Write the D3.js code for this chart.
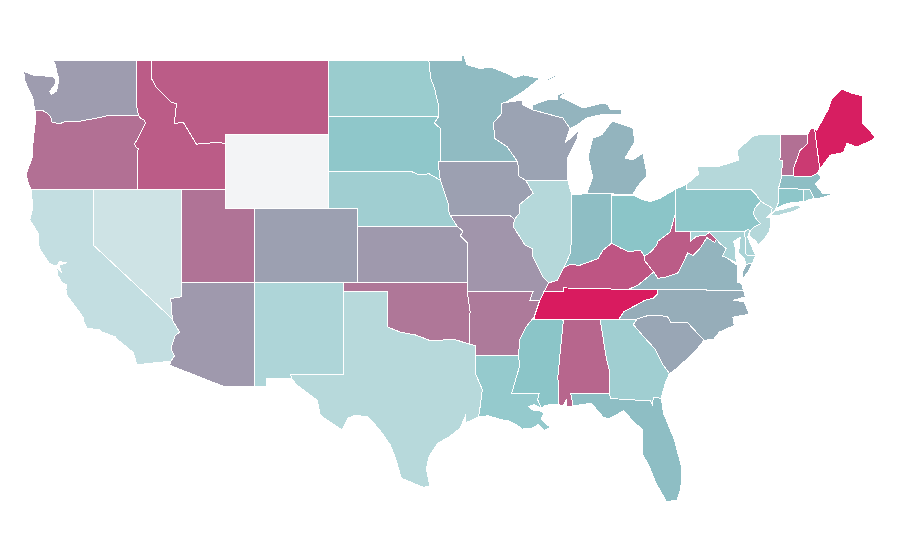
<!DOCTYPE html>
<html>
<head>
<meta charset="utf-8">
<script src="https://cdnjs.cloudflare.com/ajax/libs/d3/7.8.5/d3.min.js"></script>
<style>
body { margin: 0; background: #fff; }
</style>
</head>
<body>
<div id="map"></div>
<script>
// values, 0 = palest, 100 = deepest red
var stateNames = ["AL","AZ","AR","CA","CO","CT","DE","FL","GA","ID","IL","IN","IA","KS","KY","LA","ME","MD","MA","MI","MN","MS","MO","MT","NE","NV","NH","NJ","NM","NY","NC","ND","OH","OK","OR","PA","RI","SC","SD","TN","TX","UT","VT","VA","WA","WV","WI","WY"];
var stateValues = [78,63,72,23,61,49,35,52,40,81,30,52,61,63,83,45,99,35,52,55,53,50,64,81,40,18,91,30,33,30,57,43,50,73,75,48,42,59,48,100,29,74,75,55,62,81,60,0];

// outlines as lon/lat, one list of rings per state
var stateOutlines = {
  WA: [[[-117.03,49],[-122.76,49],[-122.55,48.7],[-122.5,48.4],[-122.35,48.05],[-122.4,47.6],[-122.5,47.3],[-122.85,47.15],[-122.95,47.3],[-122.6,47.65],[-122.55,47.95],[-122.72,48.1],[-123.2,48.13],[-124.0,48.17],[-124.72,48.38],[-124.65,47.9],[-124.35,47.35],[-124.1,46.95],[-124.05,46.65],[-123.95,46.25],[-123.45,46.27],[-123.15,46.15],[-122.9,45.95],[-122.8,45.65],[-122.3,45.55],[-121.8,45.7],[-121.2,45.65],[-120.6,45.74],[-119.9,45.84],[-119.3,45.93],[-118.98,46.0],[-116.92,46.0],[-117.04,46.42]]],
  OR: [[[-123.95,46.25],[-123.45,46.27],[-123.15,46.15],[-122.9,45.95],[-122.8,45.65],[-122.3,45.55],[-121.8,45.7],[-121.2,45.65],[-120.6,45.74],[-119.9,45.84],[-119.3,45.93],[-118.98,46.0],[-116.92,46.0],[-116.78,45.85],[-116.55,45.75],[-116.46,45.6],[-116.68,45.25],[-116.85,44.95],[-117.2,44.45],[-117.05,44.25],[-116.95,44.2],[-117.03,43.85],[-117.03,42],[-124.21,42],[-124.4,42.3],[-124.55,42.84],[-124.15,43.7],[-124.07,44.7],[-123.95,45.5]]],
  CA: [[[-124.21,42],[-120,42],[-120,39],[-114.63,35.0],[-114.57,34.85],[-114.14,34.3],[-114.43,34.1],[-114.53,33.9],[-114.72,33.4],[-114.5,33.0],[-114.72,32.72],[-117.03,32.53],[-117.3,33.2],[-117.9,33.6],[-118.32,33.86],[-118.5,34.03],[-119.4,34.3],[-119.6,34.42],[-120.42,34.5],[-120.65,34.9],[-120.69,35.1],[-121.8,36.3],[-121.85,36.6],[-121.78,36.84],[-122.1,36.96],[-122.45,37.4],[-122.46,37.75],[-122.15,37.5],[-122.3,37.9],[-121.8,38.05],[-122.3,38.1],[-122.5,37.85],[-122.97,38.0],[-123.67,38.84],[-123.75,39.65],[-124.3,40.35],[-124.1,41.0]]],
  NV: [[[-120,42],[-114.04,42],[-114.04,36.2],[-114.74,36.1],[-114.63,35.0],[-120,39]]],
  ID: [[[-117.03,49],[-116.05,49],[-116.05,48.0],[-115.7,47.5],[-114.7,46.7],[-114.35,46.65],[-114.5,45.55],[-113.9,45.65],[-113.45,45.05],[-113,44.45],[-111.5,44.55],[-111.05,44.48],[-111.05,42],[-117.03,42],[-117.03,43.85],[-116.95,44.2],[-117.05,44.25],[-117.2,44.45],[-116.85,44.95],[-116.68,45.25],[-116.46,45.6],[-116.55,45.75],[-116.78,45.85],[-116.92,46.0],[-117.04,46.42]]],
  MT: [[[-116.05,49],[-104.05,49],[-104.05,45],[-111.05,45],[-111.05,44.48],[-111.5,44.55],[-113,44.45],[-113.45,45.05],[-113.9,45.65],[-114.5,45.55],[-114.35,46.65],[-114.7,46.7],[-115.7,47.5],[-116.05,48.0]]],
  WY: [[[-111.05,45],[-104.05,45],[-104.05,41],[-111.05,41]]],
  UT: [[[-114.04,42],[-111.05,42],[-111.05,41],[-109.05,41],[-109.05,37],[-114.04,37]]],
  CO: [[[-109.05,41],[-102.05,41],[-102.05,37],[-109.05,37]]],
  AZ: [[[-114.04,37],[-109.05,37],[-109.05,31.33],[-111.07,31.33],[-114.81,32.5],[-114.72,32.72],[-114.5,33.0],[-114.72,33.4],[-114.53,33.9],[-114.43,34.1],[-114.14,34.3],[-114.57,34.85],[-114.63,35.0],[-114.74,36.1],[-114.04,36.2]]],
  NM: [[[-109.05,37],[-103,37],[-103.04,32],[-106.62,32],[-106.53,31.78],[-108.21,31.78],[-108.21,31.33],[-109.05,31.33]]],
  TX: [[[-103,36.5],[-100,36.5],[-100,34.56],[-99.2,34.3],[-98.1,34.13],[-97.2,33.85],[-96.6,33.85],[-95.5,33.9],[-94.48,33.64],[-94.04,33.55],[-94.04,33.02],[-94.04,32],[-93.6,31.2],[-93.7,30.5],[-93.85,29.7],[-94.7,29.4],[-94.75,29.75],[-95.1,29.1],[-95.9,28.6],[-96.6,28.3],[-97.2,27.6],[-97.4,26.9],[-97.15,25.96],[-97.6,25.9],[-99.1,26.4],[-99.5,27.5],[-99.85,28.2],[-100.55,29],[-101.35,29.7],[-102.2,29.8],[-102.7,29.65],[-103.1,29],[-104.6,29.8],[-104.8,30.6],[-106.2,31.45],[-106.53,31.78],[-106.62,32],[-103.04,32]]],
  OK: [[[-103,37],[-94.62,37],[-94.62,36.5],[-94.43,35.4],[-94.48,33.64],[-95.5,33.9],[-96.6,33.85],[-97.2,33.85],[-98.1,34.13],[-99.2,34.3],[-100,34.56],[-100,36.5],[-103,36.5]]],
  KS: [[[-102.05,40],[-95.3,40],[-94.9,39.75],[-95.1,39.5],[-94.6,39.1],[-94.62,37],[-102.05,37]]],
  NE: [[[-104.05,43],[-98.5,43],[-97.9,42.8],[-97.2,42.85],[-96.45,42.5],[-96.1,41.7],[-95.9,41.2],[-95.85,40.7],[-95.75,40.58],[-95.3,40],[-102.05,40],[-102.05,41],[-104.05,41]]],
  SD: [[[-104.05,45.94],[-96.56,45.94],[-96.85,45.6],[-96.45,45.3],[-96.45,43.5],[-96.6,43.5],[-96.45,42.5],[-97.2,42.85],[-97.9,42.8],[-98.5,43],[-104.05,43]]],
  ND: [[[-104.05,49],[-97.23,49],[-97.1,48],[-96.85,47.5],[-96.55,46.5],[-96.56,45.94],[-104.05,45.94]]],
  MN: [[[-97.23,49],[-95.0,49],[-95.0,49.27],[-94.85,49.27],[-94.65,48.75],[-93.8,48.55],[-92.95,48.6],[-92.0,48.3],[-91.4,48.05],[-90.8,48.2],[-89.7,48.0],[-90.8,47.3],[-92.01,46.71],[-92.29,46.66],[-92.29,46.1],[-92.85,45.6],[-92.75,44.75],[-91.9,44.3],[-91.2,43.5],[-96.45,43.5],[-96.45,45.3],[-96.85,45.6],[-96.56,45.94],[-96.55,46.5],[-96.85,47.5],[-97.1,48]]],
  IA: [[[-96.6,43.5],[-91.2,43.5],[-91.1,42.7],[-90.65,42.5],[-90.15,41.8],[-91.05,41.2],[-91.1,40.7],[-91.42,40.38],[-91.73,40.61],[-95.75,40.58],[-95.85,40.7],[-95.9,41.2],[-96.1,41.7],[-96.45,42.5]]],
  MO: [[[-95.75,40.58],[-91.73,40.61],[-91.42,40.38],[-91.5,40],[-90.7,39],[-90.2,38.8],[-90.2,38.4],[-89.5,37.3],[-89.1,36.95],[-89.4,36.5],[-89.7,36],[-90.37,36],[-90.15,36.5],[-94.62,36.5],[-94.62,37],[-94.6,39.1],[-95.1,39.5],[-94.9,39.75],[-95.3,40]]],
  AR: [[[-94.62,36.5],[-90.15,36.5],[-90.37,36],[-89.7,36],[-90.1,35.1],[-90.6,34.6],[-91.05,33.9],[-91.15,33],[-94.04,33.02],[-94.04,33.55],[-94.48,33.64],[-94.43,35.4]]],
  LA: [[[-94.04,33.02],[-91.15,33],[-91.05,32.5],[-91.6,31.0],[-89.73,31],[-89.85,30.65],[-89.6,30.18],[-90.1,30.38],[-90.45,30.25],[-90.1,30.05],[-89.7,30.05],[-89.4,29.9],[-89.6,29.6],[-89.2,29.3],[-89.0,29.15],[-89.4,28.95],[-89.8,29.3],[-90.2,29.1],[-90.9,29.05],[-91.3,29.3],[-91.8,29.5],[-92.3,29.55],[-93.2,29.77],[-93.85,29.7],[-93.7,30.5],[-93.6,31.2],[-94.04,32]]],
  MS: [[[-90.1,35],[-88.2,35],[-88.1,34.9],[-88.47,31.9],[-88.4,30.37],[-88.9,30.4],[-89.4,30.3],[-89.6,30.18],[-89.85,30.65],[-89.73,31],[-91.6,31],[-91.05,32.5],[-91.15,33],[-91.05,33.9],[-90.6,34.6],[-90.1,35.1]]],
  TN: [[[-89.4,36.5],[-88.07,36.5],[-88.07,36.68],[-83.68,36.6],[-81.68,36.59],[-81.7,36.35],[-82.0,36.12],[-82.6,36.0],[-83.1,35.77],[-84.0,35.4],[-84.32,34.99],[-85.6,34.98],[-88.2,35],[-90.1,35],[-89.7,36]]],
  KY: [[[-89.4,36.5],[-88.07,36.5],[-88.07,36.68],[-83.68,36.6],[-83.0,36.85],[-81.97,37.54],[-82.6,38.17],[-82.6,38.4],[-82.85,38.7],[-83.7,38.65],[-84.25,38.85],[-84.82,39.1],[-85.4,38.73],[-85.75,38.27],[-86.3,38.1],[-87.0,37.9],[-87.6,37.95],[-88.05,37.8],[-88.5,37.1],[-89.1,36.95]]],
  IL: [[[-90.65,42.5],[-87.8,42.5],[-87.53,41.7],[-87.53,39.35],[-87.65,38.5],[-88.05,37.8],[-88.5,37.1],[-89.1,36.95],[-89.5,37.3],[-90.2,38.4],[-90.2,38.8],[-90.7,39],[-91.5,40],[-91.42,40.38],[-91.1,40.7],[-91.05,41.2],[-90.15,41.8]]],
  IN: [[[-87.53,41.7],[-86.82,41.76],[-84.8,41.76],[-84.82,39.1],[-85.4,38.73],[-85.75,38.27],[-86.3,38.1],[-87.0,37.9],[-87.6,37.95],[-88.05,37.8],[-87.65,38.5],[-87.53,39.35]]],
  OH: [[[-84.8,41.7],[-83.38,41.7],[-82.7,41.45],[-82.2,41.35],[-81.6,41.5],[-80.52,42],[-80.52,40.64],[-80.85,39.7],[-81.7,39.2],[-81.75,39],[-82.2,38.6],[-82.6,38.4],[-82.85,38.7],[-83.7,38.65],[-84.25,38.85],[-84.82,39.1]]],
  MI: [
    [[-86.82,41.76],[-84.8,41.76],[-83.38,41.72],[-83.1,42.14],[-82.5,42.65],[-82.43,42.9],[-82.7,43.97],[-83.38,43.6],[-83.92,43.7],[-83.25,44.57],[-83.38,45.32],[-84.8,45.7],[-85.14,45.32],[-85.5,44.95],[-86.1,44.78],[-86.43,43.76],[-86.1,42.68],[-86.5,41.81]],
    [[-90.16,46.57],[-89.2,46.85],[-88.47,46.84],[-88.47,47.11],[-87.79,47.32],[-88.33,47.0],[-87.86,46.84],[-86.77,46.4],[-85.41,46.68],[-85.07,46.57],[-84.94,46.35],[-84.13,46.3],[-84.13,46.03],[-85.62,46.03],[-86.5,45.86],[-87.18,45.49],[-87.65,45.3],[-88.13,45.86],[-90.16,46.3]],
    [[-89.2,47.85],[-88.5,48.15],[-88.6,48.2],[-89.2,47.95]]
  ],
  WI: [[[-92.2,46.68],[-90.85,46.84],[-90.85,46.57],[-90.16,46.3],[-88.13,45.86],[-87.65,45.3],[-88.0,44.5],[-87.05,45.2],[-87.18,44.68],[-87.79,43.76],[-87.85,43.0],[-87.8,42.5],[-90.65,42.5],[-91.1,42.7],[-91.2,43.5],[-91.9,44.3],[-92.75,44.75],[-92.85,45.6],[-92.29,46.1],[-92.29,46.66]]],
  FL: [[[-87.6,31],[-85.0,31.0],[-84.86,30.7],[-82.2,30.57],[-82.05,30.37],[-82.0,30.75],[-81.45,30.72],[-81.3,29.9],[-80.55,28.45],[-80.05,26.9],[-80.13,25.8],[-80.4,25.2],[-81.1,25.13],[-81.8,26.1],[-82.2,26.9],[-82.75,27.75],[-82.7,29.0],[-83.4,29.5],[-84.0,30.05],[-85.0,29.6],[-85.4,29.7],[-86.2,30.45],[-87.5,30.3],[-87.45,30.4]]],
  AL: [[[-88.2,35],[-85.6,34.98],[-85.18,32.87],[-85.0,32.3],[-85.0,31.0],[-87.6,31],[-87.45,30.4],[-87.5,30.3],[-87.9,30.25],[-87.9,30.65],[-88.1,30.3],[-88.4,30.37],[-88.47,31.9],[-88.1,34.9]]],
  GA: [[[-85.6,34.98],[-83.1,35],[-83.35,34.7],[-82.6,34.0],[-81.9,33.4],[-81.4,32.6],[-80.9,32.05],[-81.2,31.5],[-81.45,30.72],[-82.0,30.75],[-82.05,30.37],[-82.2,30.57],[-84.86,30.7],[-85.0,31],[-85.0,32.3],[-85.18,32.87]]],
  SC: [[[-83.35,34.7],[-83.1,35],[-82.3,35.2],[-81.05,35.15],[-80.8,34.82],[-79.67,34.8],[-78.55,33.85],[-79.2,33.2],[-79.9,32.7],[-80.45,32.3],[-80.9,32.05],[-81.4,32.6],[-81.9,33.4],[-82.6,34.0]]],
  NC: [[[-81.68,36.59],[-75.87,36.55],[-75.75,36.2],[-76.6,36.0],[-75.85,35.95],[-75.6,35.5],[-75.5,35.25],[-76.6,35.1],[-76.5,34.65],[-77.5,34.3],[-77.9,33.9],[-78.55,33.85],[-79.67,34.8],[-80.8,34.82],[-81.05,35.15],[-82.3,35.2],[-83.1,35],[-84.32,34.99],[-84.0,35.4],[-83.1,35.77],[-82.6,36.0],[-82.0,36.12],[-81.7,36.35]]],
  VA: [
    [[-83.68,36.6],[-81.68,36.59],[-75.87,36.55],[-76.0,36.9],[-76.3,37.0],[-76.3,37.5],[-76.3,37.9],[-77.0,38.3],[-77.3,38.4],[-77.05,38.8],[-77.5,39.1],[-77.72,39.32],[-77.83,39.13],[-78.35,39.4],[-78.87,38.77],[-79.3,38.42],[-79.65,38.58],[-80.3,37.5],[-81.2,37.25],[-81.68,37.2],[-81.97,37.54],[-83.0,36.85]],
    [[-75.7,37.95],[-75.25,38.03],[-75.6,37.5],[-75.95,37.15],[-75.95,37.5]]
  ],
  WV: [[[-80.52,40.64],[-80.52,39.72],[-79.48,39.72],[-79.48,39.2],[-79.07,39.47],[-78.45,39.52],[-78.2,39.68],[-77.72,39.32],[-77.83,39.13],[-78.35,39.4],[-78.87,38.77],[-79.3,38.42],[-79.65,38.58],[-80.3,37.5],[-81.2,37.25],[-81.68,37.2],[-81.97,37.54],[-82.6,38.17],[-82.6,38.4],[-82.2,38.6],[-81.75,39],[-81.7,39.2],[-80.85,39.7]]],
  MD: [[[-79.48,39.72],[-75.79,39.72],[-75.7,38.46],[-75.05,38.45],[-75.25,38.03],[-75.7,37.95],[-75.85,38.3],[-76.2,38.6],[-76.1,39.4],[-76.55,39.2],[-76.45,38.9],[-76.4,38.3],[-76.32,38.04],[-77.0,38.3],[-77.3,38.4],[-77.05,38.8],[-77.5,39.1],[-77.72,39.32],[-78.2,39.68],[-78.45,39.52],[-79.07,39.47],[-79.48,39.2]]],
  DE: [[[-75.79,39.72],[-75.6,39.83],[-75.4,39.8],[-75.6,39.45],[-75.4,39.05],[-75.05,38.45],[-75.7,38.46]]],
  PA: [[[-80.52,42],[-79.76,42.27],[-79.76,42],[-75.35,42],[-75.05,41.75],[-74.7,41.36],[-75.1,41],[-75.2,40.7],[-75.05,40.45],[-74.72,40.15],[-75.1,40],[-75.4,39.8],[-75.6,39.83],[-75.79,39.72],[-80.52,39.72]]],
  NY: [
    [[-79.76,42],[-79.76,42.27],[-78.9,42.85],[-79.05,43.27],[-77.5,43.27],[-76.5,43.5],[-76.2,43.6],[-76.3,44.1],[-75.3,44.85],[-74.7,45],[-73.35,45],[-73.35,44.5],[-73.4,43.6],[-73.25,43.55],[-73.27,42.75],[-73.5,42.05],[-73.5,41.3],[-73.65,41],[-73.8,40.8],[-74.0,40.7],[-73.93,41],[-74.7,41.36],[-75.05,41.75],[-75.35,42]],
    [[-74.0,40.6],[-73.75,40.85],[-73.1,40.95],[-72.3,41.15],[-71.9,41.05],[-72.5,40.82],[-73.5,40.6]]
  ],
  NJ: [[[-74.7,41.36],[-73.93,41],[-74.0,40.7],[-74.25,40.5],[-74.0,40.45],[-74.1,39.75],[-74.4,39.4],[-74.9,38.95],[-75.0,39.2],[-75.5,39.5],[-75.4,39.8],[-75.1,40],[-74.72,40.15],[-75.05,40.45],[-75.2,40.7],[-75.1,41]]],
  CT: [[[-73.5,42.05],[-71.8,42.02],[-71.8,41.35],[-72.9,41.25],[-73.65,41],[-73.5,41.3]]],
  RI: [[[-71.8,42.02],[-71.38,42.02],[-71.15,41.65],[-71.15,41.5],[-71.4,41.45],[-71.85,41.32],[-71.8,41.35]]],
  MA: [[[-73.5,42.05],[-73.27,42.75],[-71.3,42.7],[-70.85,42.88],[-70.6,42.65],[-71.0,42.3],[-70.65,41.95],[-70.5,41.8],[-70.05,41.8],[-70.2,42.07],[-69.95,41.7],[-70.6,41.55],[-71.15,41.5],[-71.15,41.65],[-71.38,42.02],[-71.8,42.02]]],
  VT: [[[-73.35,45],[-71.5,45],[-71.5,44.5],[-72.05,44.1],[-72.45,43.2],[-72.46,42.73],[-73.27,42.75],[-73.25,43.55],[-73.4,43.6],[-73.35,44.5]]],
  NH: [[[-71.5,45],[-71.3,45.3],[-71.05,45.3],[-70.7,43.1],[-70.85,42.88],[-71.3,42.7],[-72.46,42.73],[-72.45,43.2],[-72.05,44.1],[-71.5,44.5]]],
  ME: [[[-71.05,45.3],[-70.9,45.2],[-70.15,46.3],[-69.9,46.85],[-69.2,47.42],[-68.5,47.2],[-67.8,47.07],[-67.8,45.6],[-67.45,45.3],[-66.95,44.85],[-67.1,44.68],[-68.2,44.3],[-68.85,44.5],[-69.1,44],[-70,43.85],[-70.7,43.1]]]
};

var width = 900,
    height = 560;

var vis = d3.select("#map")
            .append("svg")
            .attr("width", width)
            .attr("height", height);

// plain lon/lat grid, no curvature: the 49th parallel stays straight
var x = d3.scaleLinear().domain([-117.03, -66.95]).range([137, 875]);
var y = d3.scaleLinear().domain([49, 25]).range([60, 504]);

var project = d3.geoTransform({
  point: function(lon, lat) { this.stream.point(x(lon), y(lat)); }
});
var path = d3.geoPath().projection(project);

var color = d3.scaleLinear()
  .domain([0, 50, 100])
  .range(["#f3f4f6", "#8bc5c8", "#d91b5f"]);

var features = stateNames.map(function(name, i) {
  return {
    type: "Feature",
    properties: {name: name, value: stateValues[i]},
    geometry: {type: "MultiPolygon", coordinates: stateOutlines[name].map(function(ring) {
      return [ring.concat([ring[0]])];
    })}
  };
});

vis.selectAll(".state")
  .data(features)
  .enter()
  .append("path")
  .attr("class", "state")
  .attr("d", path)
  .attr("fill", function(d) { return color(d.properties.value); })
  .attr("stroke", "#fff")
  .attr("stroke-width", 1)
  .attr("shape-rendering", "crispEdges");
</script>
</body>
</html>
